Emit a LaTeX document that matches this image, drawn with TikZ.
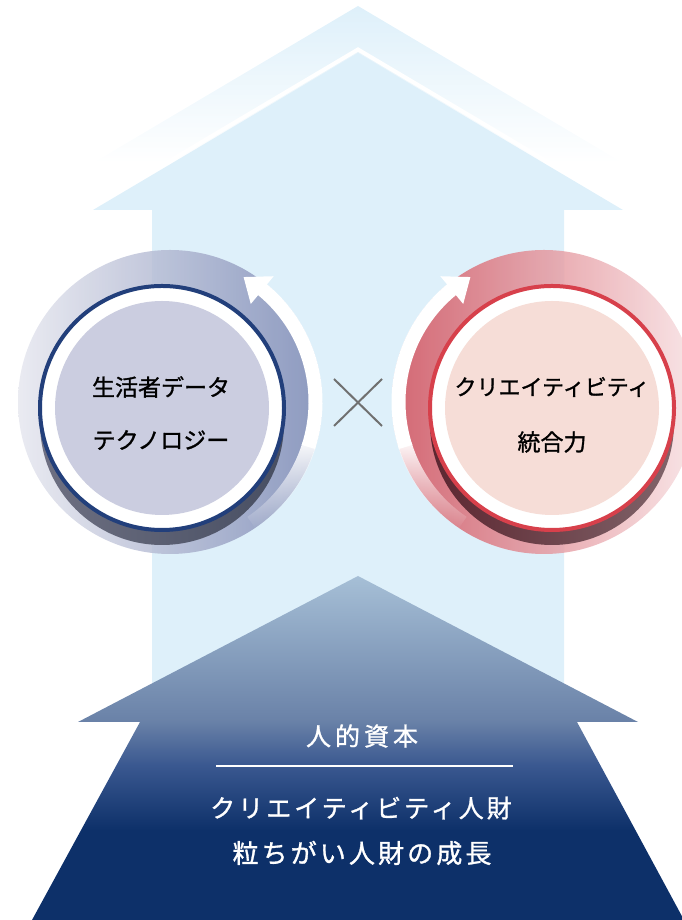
\documentclass[tikz,border=0pt]{standalone}
\usepackage{fontspec}
\usetikzlibrary{fadings}
\setmainfont{Noto Sans CJK JP}[FakeBold=1.2]
\newfontfamily\spacedjp{Noto Sans CJK JP}[LetterSpace=12, FakeBold=1.2]
\newfontfamily\widejp{Noto Sans CJK JP}[LetterSpace=16, FakeBold=1.2]

\definecolor{skyblue}{HTML}{DEF0FA}
\definecolor{navyblue}{HTML}{0D3069}
\definecolor{midnavy}{HTML}{3A5890}
\definecolor{dusknavy}{HTML}{6A82A8}
\definecolor{palenavy}{HTML}{A6BFD6}
\definecolor{lavlight}{HTML}{E6E7EF}
\definecolor{lavdark}{HTML}{7E8AB5}
\definecolor{lavfill}{HTML}{CBCDE0}
\definecolor{navyline}{HTML}{223F7B}
\definecolor{slatelight}{HTML}{6E7082}
\definecolor{slatedark}{HTML}{474E62}
\definecolor{rosedark}{HTML}{D2505C}
\definecolor{roselight}{HTML}{F7E1E3}
\definecolor{rosefill}{HTML}{F6DDD7}
\definecolor{redline}{HTML}{D7404B}
\definecolor{maroondark}{HTML}{5C2630}
\definecolor{maroonlight}{HTML}{80646A}
\definecolor{crossgray}{HTML}{707070}

\pgfdeclareverticalshading{riseshade}{100bp}{color(0bp)=(navyblue); color(25bp)=(navyblue); color(38bp)=(navyblue); color(47.5bp)=(midnavy); color(54bp)=(dusknavy); color(75bp)=(palenavy); color(100bp)=(palenavy)}
\tikzfading[name=arcfade, top color=transparent!0, bottom color=transparent!100]

\begin{document}
\begin{tikzpicture}[x=1pt, y=1pt,
  disc/.style={circle, inner sep=0pt, minimum size=#1},
  circletext/.style={font=\fontsize{23}{27}\selectfont, text=black, inner sep=0pt},
  basetext/.style={font=\spacedjp\fontsize{25}{30}\selectfont, text=white, inner sep=0pt},
  turnarc/.style={white, line width=14}]
\useasboundingbox (0,0) rectangle (681,920);

% big light arrow behind everything
\shade[top color=skyblue, bottom color=white] (358,914) -- (623,757) -- (93,757) -- cycle;
\fill[skyblue] (358,867) -- (623,710) -- (564,710) -- (564,200) -- (152,200) -- (152,710) -- (93,710) -- cycle;
\draw[white, line width=4] (93,713.6) -- (358,870.5) -- (623,713.6);

% dark arrow at the bottom
\shade[shading=riseshade] (358,344) -- (638,198) -- (577,198) -- (684,0) -- (32,0) -- (140,198) -- (78,198) -- cycle;

% left circle
\node[disc=304, left color=lavlight, right color=lavdark, fill opacity=0.85] (dataring) at (170,518) {};
\draw[turnarc] ([shift={(-18:145.5)}]dataring.center) arc[start angle=-18, end angle=51, radius=145.5];
\draw[turnarc, path fading=arcfade] ([shift={(-56:145.5)}]dataring.center) arc[start angle=-56, end angle=-17, radius=145.5];
\fill[white] ([shift={(50.5:127)}]dataring.center) -- ([shift={(50.5:163)}]dataring.center) -- ([shift={(59.5:145)}]dataring.center) -- cycle;
\node[disc=244, left color=slatelight, right color=slatedark] (datashadow) at (162,497) {};
\node[disc=244, draw=navyline, line width=4, fill=white] (databtn) at (162,512) {};
\node[disc=214, fill=lavfill] (datacore) at (databtn) {};
\node[circletext] (datatop) at (161,533) {生活者データ};
\node[circletext] (databottom) at (161,480) {テクノロジー};

% right circle
\node[disc=304, left color=rosedark, right color=roselight, fill opacity=0.85] (crearing) at (544,518) {};
\draw[turnarc] ([shift={(198:145.5)}]crearing.center) arc[start angle=198, end angle=129, radius=145.5];
\draw[turnarc, path fading=arcfade] ([shift={(236:145.5)}]crearing.center) arc[start angle=236, end angle=197, radius=145.5];
\fill[white] ([shift={(129.5:127)}]crearing.center) -- ([shift={(129.5:163)}]crearing.center) -- ([shift={(120.5:145)}]crearing.center) -- cycle;
\node[disc=244, left color=maroondark, right color=maroonlight] (creashadow) at (552,497) {};
\node[disc=244, draw=redline, line width=4, fill=white] (creabtn) at (552,512) {};
\node[disc=214, fill=rosefill] (creacore) at (creabtn) {};
\node[circletext, font=\fontsize{22}{26}\selectfont] (creatop) at (552,533) {クリエイティビティ};
\node[circletext] (creabottom) at (552,478) {統合力};

% cross between the circles
\coordinate (cross) at (358,517.5);
\draw[crossgray, line width=2] ([shift={(-24,23.5)}]cross) -- ([shift={(24,-23.5)}]cross);
\draw[crossgray, line width=2] ([shift={(-24,-23.5)}]cross) -- ([shift={(24,23.5)}]cross);

% texts on the dark arrow
\node[basetext, font=\widejp\fontsize{25}{30}\selectfont] (capital) at (362,184) {人的資本};
\coordinate (ruleleft) at (216,154);
\coordinate (ruleright) at (513,154);
\draw[white, line width=1.5] (ruleleft) -- (ruleright);
\node[basetext] (talent) at (361,112) {クリエイティビティ人財};
\node[basetext, font=\spacedjp\fontsize{26}{30}\selectfont] (growth) at (362,67) {粒ちがい人財の成長};
\end{tikzpicture}
\end{document}
